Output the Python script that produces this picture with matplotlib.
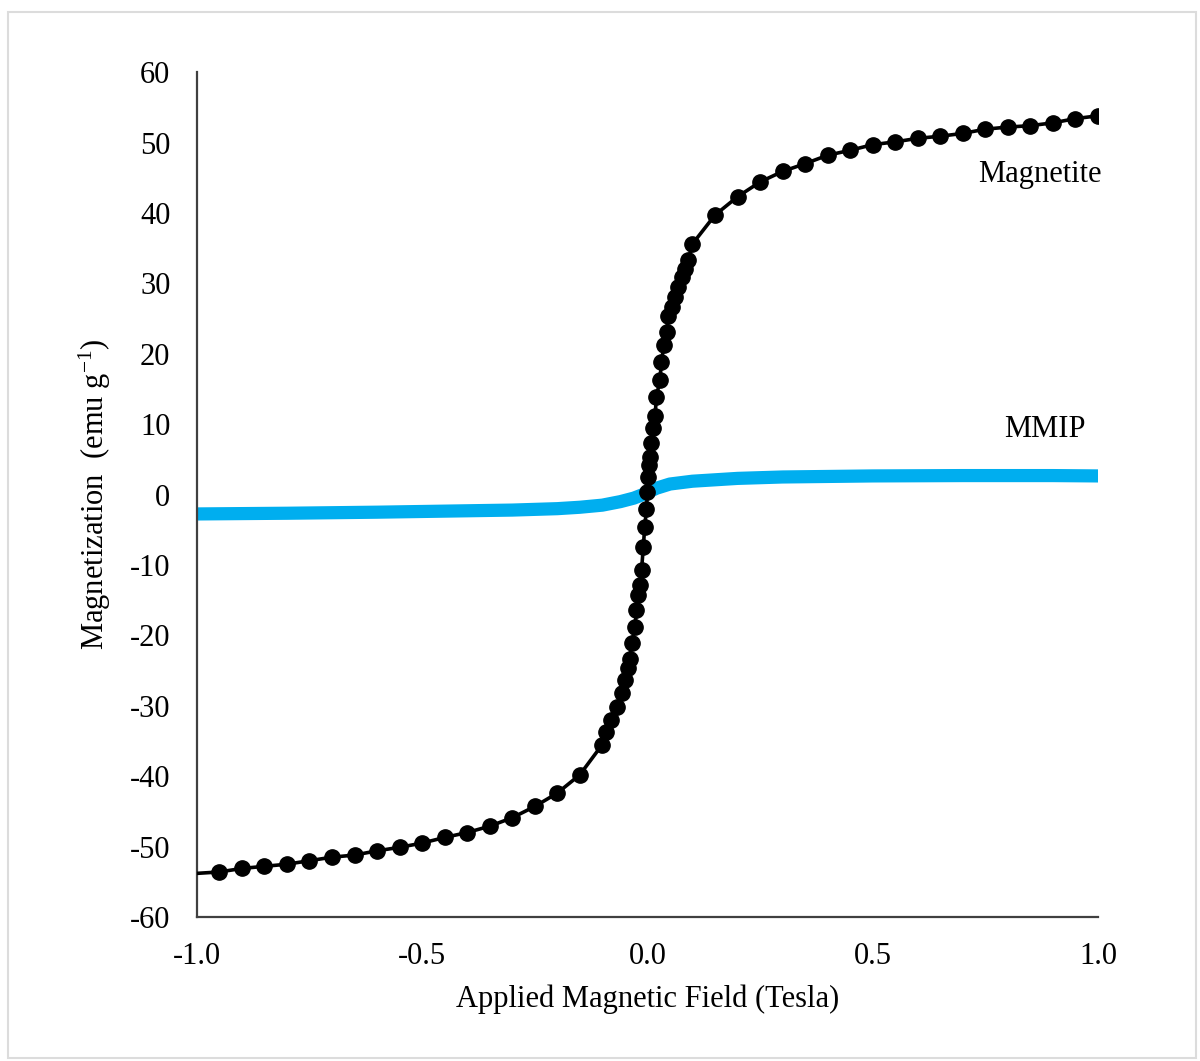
import matplotlib
matplotlib.use("Agg")
import matplotlib.pyplot as plt
from matplotlib.patches import Rectangle
from matplotlib.ticker import FormatStrFormatter

plt.rcParams["font.family"] = ["Liberation Serif", "DejaVu Serif"]
plt.rcParams["axes.unicode_minus"] = False

# --- Magnetit: Messpunkte (T, emu/g) ---
magnetite_field = [-0.95, -0.90, -0.85, -0.80, -0.75, -0.70, -0.65, -0.60, -0.55, -0.50,
                   -0.45, -0.40, -0.35, -0.30, -0.25, -0.20, -0.15, -0.10,
                   -0.091, -0.080, -0.068, -0.057, -0.050, -0.042, -0.039, -0.035,
                   -0.027, -0.025, -0.020, -0.017, -0.013, -0.009, -0.006, -0.002,
                   0.000, 0.002, 0.004, 0.006, 0.009, 0.013, 0.017, 0.020, 0.028,
                   0.031, 0.037, 0.043, 0.046, 0.054, 0.061, 0.068, 0.076, 0.083, 0.091,
                   0.10, 0.15, 0.20, 0.25, 0.30, 0.35, 0.40, 0.45, 0.50, 0.55,
                   0.60, 0.65, 0.70, 0.75, 0.80, 0.85, 0.90, 0.95, 1.00]
magnetite_mag = [-53.6, -53.1, -52.8, -52.5, -52.0, -51.5, -51.2, -50.6, -50.1, -49.5,
                 -48.7, -48.0, -47.1, -45.9, -44.3, -42.4, -39.8, -35.5,
                 -33.7, -32.0, -30.1, -28.2, -26.3, -24.7, -23.3, -21.1,
                 -18.8, -16.4, -14.3, -12.9, -10.7, -7.4, -4.6, -2.0,
                 0.4, 2.5, 4.2, 5.4, 7.3, 9.4, 11.1, 13.9, 16.3,
                 18.9, 21.2, 23.1, 25.3, 26.7, 28.1, 29.5, 30.9, 32.1, 33.3,
                 35.6, 39.7, 42.3, 44.4, 45.9, 47.0, 48.2, 48.9, 49.7, 50.1,
                 50.6, 50.9, 51.3, 51.9, 52.2, 52.4, 52.8, 53.4, 53.8]
# Linie beginnt bei -1 T (ohne Marker)
line_start_field = -1.0
line_start_mag = -53.8

# --- MMIP ---
mmip_field = [-1.0, -0.8, -0.6, -0.4, -0.3, -0.2, -0.15, -0.10, -0.06, -0.03, -0.01,
              0.0, 0.02, 0.05, 0.10, 0.15, 0.20, 0.30, 0.50, 0.70, 0.90, 1.0]
mmip_mag = [-2.75, -2.65, -2.5, -2.3, -2.2, -2.0, -1.8, -1.5, -1.0, -0.5, 0.0,
            0.3, 0.9, 1.5, 1.9, 2.1, 2.3, 2.5, 2.65, 2.7, 2.7, 2.65]

x_ticks = [-1.0, -0.5, 0.0, 0.5, 1.0]
y_ticks = list(range(-60, 61, 10))

fig = plt.figure(figsize=(12, 10.61), dpi=100)
fig.patches.append(Rectangle((0.007, 0.003), 0.99, 0.986, transform=fig.transFigure,
                             fill=False, edgecolor="#dcdcdc", lw=1.5))
ax = fig.add_axes([0.164, 0.1357, 0.751, 0.7963])

ax.plot(mmip_field, mmip_mag, color="#00aeef", lw=9.5, solid_capstyle="round", zorder=2)
ax.plot([line_start_field] + magnetite_field, [line_start_mag] + magnetite_mag,
        "o-", color="black", lw=2.6, ms=11, markevery=slice(1, None), zorder=3)

ax.text(0.871, 45.4, "Magnetite", fontsize=22, ha="center", va="center")
ax.text(0.882, 9.2, "MMIP", fontsize=22, ha="center", va="center")

ax.set_xlim(-1.0, 1.0)
ax.set_ylim(-60, 60)
ax.set_xticks(x_ticks)
ax.set_yticks(y_ticks)
ax.xaxis.set_major_formatter(FormatStrFormatter("%.1f"))
ax.tick_params(length=0, labelsize=22)
ax.tick_params(axis="x", pad=18)
ax.tick_params(axis="y", pad=19)
for s in ["top", "right"]:
    ax.spines[s].set_visible(False)
for s in ["left", "bottom"]:
    ax.spines[s].set_color("#404040")
    ax.spines[s].set_linewidth(1.6)

ax.set_xlabel("Applied Magnetic Field (Tesla)", fontsize=22, labelpad=10)
ax.set_ylabel("Magnetization  (emu $\\mathregular{g^{-1}}$)", fontsize=22, labelpad=12)

fig.savefig("out.png", dpi=100)
